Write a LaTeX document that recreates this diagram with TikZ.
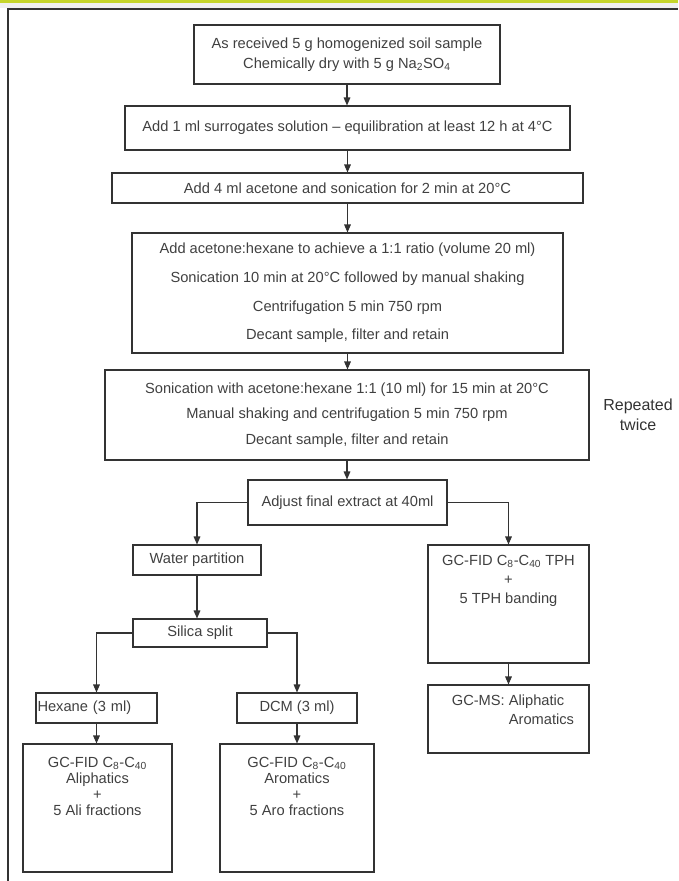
\documentclass[tikz,border=0pt]{standalone}
\usepackage{fontspec}
\setmainfont{Liberation Sans}
\usetikzlibrary{arrows.meta,calc}
\definecolor{txt}{HTML}{404040}
\definecolor{ln}{HTML}{333333}
\definecolor{band}{HTML}{C5D52B}
\newcommand\topbox[4]{\parbox[c][#1][t]{#2}{\centering\rule{0pt}{#3}#4}}
\begin{document}
\begin{tikzpicture}[x=0.75pt,y=-0.75pt,
  every node/.style={text=txt, font=\fontsize{11}{13}\selectfont},
  box/.style={draw=ln, line width=0.8pt, inner sep=0pt, align=center},
  arr/.style={draw=ln, line width=0.8pt, -{Triangle[length=6pt,width=5pt]}},
  frameline/.style={draw=ln, line width=1.3pt}]
\useasboundingbox (0,0) rectangle (678,881);
% page decoration
\fill[band] (0,0) rectangle (678,3.5);
\fill[gray!12] (0,3.5) rectangle (678,8);
\draw[frameline] (8,881) -- (8,9) -- (678,9);
% main column
\node[box, minimum width=229.5pt, minimum height=44.25pt, font=\fontsize{11}{15}\selectfont] (b1) at (347,54.5)
  {As received 5 g homogenized soil sample\\Chemically dry with 5 g Na\textsubscript{2}SO\textsubscript{4}};
\node[box, minimum width=333.75pt, minimum height=33pt] (b2) at (347.5,128)
  {Add 1 ml surrogates solution – equilibration at least 12 h at 4°C};
\node[box, minimum width=353.25pt, minimum height=22.5pt] (b3) at (347.5,188)
  {Add 4 ml acetone and sonication for 2 min at 20°C};
\node[box, minimum width=323.25pt, minimum height=90pt, font=\fontsize{11}{21.4}\selectfont] (b4) at (347.5,293)
  {Add acetone:hexane to achieve a 1:1 ratio (volume 20 ml)\\Sonication 10 min at 20°C followed by manual shaking\\Centrifugation 5 min 750 rpm\\Decant sample, filter and retain};
\node[box, minimum width=363pt, minimum height=67.5pt, font=\fontsize{11}{19}\selectfont] (b5) at (347,415)
  {Sonication with acetone:hexane 1:1 (10 ml) for 15 min at 20°C\\Manual shaking and centrifugation 5 min 750 rpm\\Decant sample, filter and retain};
\node[align=center, font=\fontsize{12}{15}\selectfont, text=ln] (rep) at (638,415) {Repeated\\twice};
\node[box, minimum width=149.25pt, minimum height=33.75pt] (b6) at (347.5,502.5)
  {Adjust final extract at 40ml};
% left branch
\node[box, minimum width=96pt, minimum height=22.5pt] (wp) at (197,560) {Water partition};
\node[box, minimum width=100.5pt, minimum height=21pt] (ss) at (200,633) {Silica split};
\node[box, minimum width=90.75pt, minimum height=22.5pt, text width=88.5pt, align=left, inner xsep=1.125pt] (hx) at (96.5,708) {Hexane (3 ml)};
\node[box, minimum width=90pt, minimum height=22.5pt] (dcm) at (297,708) {DCM (3 ml)};
\node[box, minimum width=111.75pt, minimum height=96pt, font=\fontsize{11}{12}\selectfont] (ali) at (97.5,808)
  {\topbox{95pt}{110pt}{17pt}{GC-FID C\textsubscript{8}-C\textsubscript{40}\\Aliphatics\\+\\5 Ali fractions}};
\node[box, minimum width=115.5pt, minimum height=96pt, font=\fontsize{11}{12}\selectfont] (aro) at (297,808)
  {\topbox{95pt}{114pt}{17pt}{GC-FID C\textsubscript{8}-C\textsubscript{40}\\Aromatics\\+\\5 Aro fractions}};
% right branch
\node[box, minimum width=120.75pt, minimum height=88.5pt, font=\fontsize{11}{14}\selectfont] (tph) at (508.5,604)
  {\topbox{87.5pt}{119pt}{15pt}{GC-FID C\textsubscript{8}-C\textsubscript{40} TPH\\+\\5 TPH banding}};
\node[box, minimum width=120.75pt, minimum height=51pt, font=\fontsize{11}{14}\selectfont] (ms) at (508.5,719)
  {\parbox[c][50pt][t]{119pt}{\raggedright\rule{0pt}{15pt}\hspace*{17pt}GC-MS: Aliphatic\\\hspace*{17pt}\phantom{GC-MS: }Aromatics}};
% connectors
\draw[arr] (b1.south) -- (b1.south |- b2.north);
\draw[arr] (b2.south) -- (b2.south |- b3.north);
\draw[arr] (b3.south) -- (b3.south |- b4.north);
\draw[arr] (b4.south) -- (b4.south |- b5.north);
\draw[arr] (b5.south) -- (b5.south |- b6.north);
\draw[arr] (b6.west) -| (wp.north);
\draw[arr] (b6.east) -| (tph.north);
\draw[arr] (wp.south) -- (wp.south |- ss.north);
\draw[arr] (ss.west) -| (hx.north);
\draw[arr] (ss.east) -| (dcm.north);
\draw[arr] (hx.south) -- (hx.south |- ali.north);
\draw[arr] (dcm.south) -- (dcm.south |- aro.north);
\draw[arr] (tph.south) -- (ms.north);
\end{tikzpicture}
\end{document}
